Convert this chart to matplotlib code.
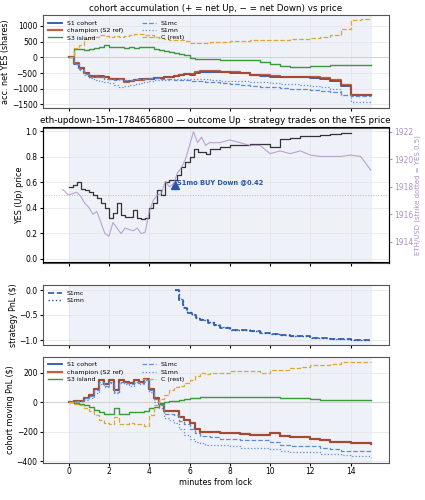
import numpy as np
import matplotlib.pyplot as plt

# ---- data ----
t = [0, 0.25, 0.5, 0.75, 1.0, 1.25, 1.5, 1.75, 2.0, 2.25, 2.5, 2.75, 3.0, 3.25, 3.5, 3.75,
     4.0, 4.25, 4.5, 4.75, 5.0, 5.25, 5.5, 5.75, 6.0, 6.25, 6.5, 6.75, 7.0, 7.5, 8.0, 8.5,
     9.0, 9.5, 10.0, 10.5, 11.0, 11.5, 12.0, 12.5, 13.0, 13.5, 14.0, 14.5, 15.0]

acc_s1 = [0, -200, -350, -500, -600, -620, -600, -620, -680, -700, -700, -760, -740, -720, -700, -700,
          -680, -660, -650, -640, -620, -600, -560, -540, -550, -500, -460, -460, -460, -480, -490, -500,
          -560, -580, -620, -620, -620, -640, -650, -680, -750, -900, -1200, -1200, -1200]
acc_champ = [0, -180, -340, -490, -590, -610, -620, -640, -680, -700, -690, -780, -760, -730, -720, -700,
             -690, -670, -650, -640, -620, -580, -560, -520, -520, -460, -440, -440, -440, -460, -470, -490,
             -550, -570, -610, -620, -620, -630, -640, -670, -720, -880, -1190, -1200, -1200]
acc_s3 = [0, 250, 250, 230, 260, 300, 330, 380, 330, 330, 320, 310, 320, 310, 330, 330,
          320, 250, 230, 200, 180, 150, 100, 80, -30, -40, -40, -40, -60, -70, -80, -80,
          -100, -160, -200, -280, -300, -300, -280, -280, -250, -240, -240, -240, -240]
acc_s1mc = [0, -200, -380, -520, -620, -640, -640, -680, -700, -720, -700, -720, -720, -700, -700, -680,
            -660, -670, -680, -690, -700, -720, -720, -720, -760, -760, -760, -780, -800, -820, -860, -880,
            -900, -940, -960, -980, -1000, -1020, -1040, -1080, -1100, -1200, -1220, -1220, -1220]
acc_s1mn = [0, -220, -400, -560, -660, -720, -760, -800, -830, -880, -940, -920, -880, -840, -820, -780,
            -740, -730, -720, -710, -700, -690, -680, -680, -690, -700, -700, -700, -720, -740, -760, -760,
            -780, -800, -820, -840, -860, -880, -900, -940, -1000, -1200, -1420, -1440, -1440]
acc_c = [0, 300, 380, 600, 640, 640, 700, 680, 660, 690, 660, 690, 700, 760, 760, 720,
         700, 640, 620, 600, 560, 540, 540, 520, 460, 460, 470, 470, 480, 500, 510, 520,
         540, 560, 560, 540, 580, 600, 620, 640, 700, 900, 1200, 1220, 1220]

t_yes = [-0.3, 0, 0.2, 0.4, 0.6, 0.8, 1.0, 1.2, 1.4, 1.6, 1.8, 2.0, 2.2, 2.4, 2.6, 2.8, 3.0, 3.2, 3.4,
         3.6, 3.8, 4.0, 4.2, 4.4, 4.6, 4.8, 5.0, 5.2, 5.4, 5.6, 5.8, 6.0, 6.2, 6.4, 6.6, 6.8, 7.0,
         7.5, 8.0, 8.5, 9.0, 9.5, 10.0, 10.5, 11.0, 11.5, 12.0, 12.5, 13.0, 13.5, 14.0]
yes = [np.nan, 0.56, 0.58, 0.60, 0.55, 0.54, 0.52, 0.50, 0.48, 0.44, 0.40, 0.32, 0.36, 0.44, 0.34, 0.33, 0.33, 0.38, 0.32,
       0.31, 0.32, 0.40, 0.44, 0.54, 0.50, 0.60, 0.62, 0.62, 0.66, 0.72, 0.76, 0.80, 0.86, 0.84, 0.84, 0.82, 0.86,
       0.88, 0.89, 0.89, 0.90, 0.90, 0.88, 0.94, 0.95, 0.96, 0.96, 0.97, 0.98, 0.99, 0.99]
t_eth = t_yes + [14.5, 15.0]
eth = [1917.8, 1917.4, 1917.5, 1917.6, 1917.3, 1916.8, 1916.5, 1916.0, 1916.2, 1915.4, 1914.6, 1914.4, 1915.4, 1915.0, 1914.6,
       1915.0, 1914.9, 1914.8, 1915.0, 1914.6, 1914.7, 1916.2, 1917.0, 1917.4, 1917.5, 1918.4, 1918.0, 1918.2, 1919.0,
       1919.4, 1920.0, 1921.0, 1922.0, 1921.2, 1921.6, 1921.0, 1921.2, 1921.2, 1921.4, 1921.2, 1921.0, 1921.0, 1920.4,
       1920.6, 1920.4, 1920.6, 1920.3, 1920.2, 1920.2, 1920.2, 1920.3, 1920.2, 1919.2]

t_strat = [5.3, 5.5, 5.7, 5.9, 6.1, 6.3, 6.5, 6.7, 6.9, 7.2, 7.5, 8.0, 8.5, 9.0, 9.5, 10.0, 10.5, 11.0, 12.0, 13.0, 14.0, 15.0]
strat_s1mc = [0.0, -0.2, -0.35, -0.45, -0.5, -0.55, -0.6, -0.6, -0.65, -0.7, -0.75, -0.8, -0.8, -0.82, -0.85, -0.88, -0.9,
              -0.92, -0.95, -0.98, -1.0, -1.0]
strat_s1mn = [0.0, -0.18, -0.33, -0.44, -0.5, -0.55, -0.58, -0.6, -0.64, -0.7, -0.74, -0.79, -0.8, -0.82, -0.85, -0.88,
              -0.9, -0.92, -0.95, -0.98, -1.0, -1.0]

pnl_s1 = [0, 5, 10, 30, 50, 90, 150, 120, 150, 80, 150, 140, 130, 150, 140, 160,
          90, 30, -10, -60, -60, -60, -100, -120, -140, -180, -200, -200, -200, -210, -210, -215,
          -220, -220, -210, -230, -240, -240, -250, -255, -270, -270, -280, -280, -285]
pnl_champ = pnl_s1
pnl_s3 = [0, -5, -10, -20, -30, -50, -70, -80, -80, -40, -80, -80, -70, -70, -70, -60,
          -40, -30, -10, 0, 5, 10, 15, 20, 25, 30, 35, 38, 38, 38, 38, 38,
          38, 38, 38, 30, 30, 25, 20, 15, 15, 15, 15, 15, 15]
pnl_s1mc = [0, 5, 10, 25, 45, 80, 140, 110, 140, 70, 140, 130, 120, 140, 130, 150,
            80, 20, -20, -80, -80, -90, -130, -150, -180, -210, -230, -230, -240, -250, -250, -260,
            -260, -260, -270, -290, -300, -300, -300, -310, -320, -330, -335, -335, -340]
pnl_s1mn = [0, 0, 5, 15, 30, 60, 120, 100, 130, 60, 130, 120, 110, 130, 120, 140,
            70, 0, -40, -110, -120, -140, -180, -220, -250, -270, -280, -290, -290, -290, -300, -310,
            -310, -310, -320, -330, -340, -340, -340, -350, -355, -360, -365, -365, -370]
pnl_c = [0, -10, -20, -40, -60, -90, -120, -140, -150, -100, -150, -150, -140, -150, -150, -160,
         -90, -20, 20, 50, 80, 100, 110, 130, 150, 180, 200, 190, 200, 200, 210, 210,
         210, 200, 220, 220, 230, 240, 250, 250, 260, 270, 275, 275, 275]

BLUE = '#2657a8'
RED = '#b5461f'
GREEN = '#3a9a3a'
GOLD = '#e0a82a'
LBLUE = '#5b8ed6'
PURP = '#a990c9'
LAB = 5.8

fig = plt.figure(figsize=(4.25, 5), dpi=100)
axes = [fig.add_axes([0.10, 0.785, 0.815, 0.185]),
        fig.add_axes([0.10, 0.475, 0.815, 0.27]),
        fig.add_axes([0.10, 0.31, 0.815, 0.12]),
        fig.add_axes([0.10, 0.02 + 0.0, 0.815, 0.0])]
axes[3].remove()
axes[3] = fig.add_axes([0.10, 0.075, 0.815, 0.212])

for ax in axes:
    ax.axvspan(0, 15, color='#eef1f8', zorder=0)
    ax.set_xlim(-1.3, 15.9)
    ax.set_xticks([0, 2, 4, 6, 8, 10, 12, 14])
    ax.grid(True, color='#e3e3e3', lw=0.5)
    ax.tick_params(labelsize=5.5, length=2, pad=1.5)
    for s in ax.spines.values():
        s.set_color('#555555')
    if ax is not axes[3]:
        ax.set_xticklabels([])

kw = dict(where='post')
# panel 1
ax = axes[0]
ax.axhline(0, color='#cccccc', lw=0.6)
ax.step(t, acc_s1, color=BLUE, lw=1.3, label='S1 cohort', **kw)
ax.step(t, acc_champ, color=RED, lw=1.6, alpha=0.85, label='champion (S2 ref)', **kw)
ax.step(t, acc_s3, color=GREEN, lw=1.0, label='S3 island', **kw)
ax.step(t, acc_s1mc, color=LBLUE, lw=0.9, ls='--', label='S1mc', **kw)
ax.step(t, acc_s1mn, color=LBLUE, lw=0.9, ls=':', label='S1mn', **kw)
ax.step(t, acc_c, color=GOLD, lw=0.9, ls='--', label='C (rest)', **kw)
ax.set_ylim(-1600, 1350)
ax.set_yticks([-1500, -1000, -500, 0, 500, 1000])
ax.set_ylabel('acc. net YES (shares)', fontsize=LAB, labelpad=1)
ax.set_title('cohort accumulation (+ = net Up, − = net Down) vs price', fontsize=6.3, pad=3)
ax.legend(ncol=2, fontsize=4.5, loc='upper left', frameon=False, handlelength=2.2,
          columnspacing=3, labelspacing=0.3)

# panel 2
ax = axes[1]
ax.axhline(0.5, color='#bbbbbb', lw=0.7, ls=':')
ax.step(t_yes, yes, color='#333333', lw=0.9, **kw)
ax.plot(5.3, 0.58, marker='^', color=BLUE, ms=6)
ax.text(5.4, 0.6, 'S1mo BUY Down @0.42', color=BLUE, fontsize=4.8, fontweight='bold', va='center')
ax.set_ylim(-0.03, 1.03)
ax.set_ylabel('YES (Up) price', fontsize=LAB, labelpad=1)
ax.set_title('eth-updown-15m-1784656800 — outcome Up · strategy trades on the YES price', fontsize=6.3, pad=3)
ax2 = ax.twinx()
ax2.plot(t_eth, eth, color=PURP, lw=0.8, alpha=0.8)
ax2.set_ylim(1912.5, 1922.3)
ax2.set_yticks([1914, 1916, 1918, 1920, 1922])
ax2.tick_params(labelsize=5.5, length=2, pad=1.5, colors=PURP)
ax2.set_ylabel('ETH/USD (strike dotted = YES 0.5)', fontsize=5, color=PURP, labelpad=1)

# panel 3
ax = axes[2]
ax.step(t_strat, strat_s1mc, color=BLUE, lw=1.2, ls='--', label='S1mc', **kw)
ax.step(t_strat, strat_s1mn, color=BLUE, lw=1.0, ls=':', label='S1mn', **kw)
ax.set_ylim(-1.1, 0.1)
ax.set_yticks([-1.0, -0.5, 0.0])
ax.set_ylabel('strategy PnL ($)', fontsize=LAB, labelpad=1)
ax.legend(fontsize=4.5, loc='upper left', frameon=False, handlelength=2.2, labelspacing=0.3)

# panel 4
ax = axes[3]
ax.axhline(0, color='#cccccc', lw=0.6)
ax.step(t, pnl_s1, color=BLUE, lw=1.3, label='S1 cohort', **kw)
ax.step(t, pnl_champ, color=RED, lw=1.6, alpha=0.85, label='champion (S2 ref)', **kw)
ax.step(t, pnl_s3, color=GREEN, lw=1.0, label='S3 island', **kw)
ax.step(t, pnl_s1mc, color=LBLUE, lw=0.9, ls='--', label='S1mc', **kw)
ax.step(t, pnl_s1mn, color=LBLUE, lw=0.9, ls=':', label='S1mn', **kw)
ax.step(t, pnl_c, color=GOLD, lw=0.9, ls='--', label='C (rest)', **kw)
ax.set_ylim(-410, 310)
ax.set_yticks([-400, -200, 0, 200])
ax.set_ylabel('cohort moving PnL ($)', fontsize=LAB, labelpad=1)
ax.set_xlabel('minutes from lock', fontsize=LAB, labelpad=1)
ax.legend(ncol=2, fontsize=4.5, loc='upper left', frameon=False, handlelength=2.2,
          columnspacing=3, labelspacing=0.3)

fig.savefig('out.png', dpi=100)
